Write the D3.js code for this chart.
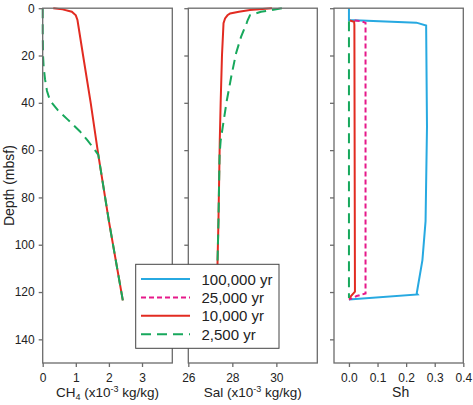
<!DOCTYPE html>
<html><head><meta charset="utf-8">
<script src="https://cdn.jsdelivr.net/npm/d3@7"></script>
<style>
html,body{margin:0;padding:0;background:#fff;}
svg{display:block;font-family:"Liberation Sans",Arial,sans-serif;}
</style></head>
<body><svg id="c" width="473" height="405"></svg>
<script>
// ---- data ----
const seriesNames = ["100,000 yr","25,000 yr","10,000 yr","2,500 yr"];
const seriesColors = ["#27a9e1","#e6198a","#e22b21","#17a85c"];
const yTicks = [0,20,40,60,80,100,120,140];
const ch4Ticks = [0,1,2,3];
const salTicks = [26,28,30];
const shTicks = [0.0,0.1,0.2,0.3,0.4];

// CH4 panel
const ch4Depth10k = [0,0.5,1.5,3,5,20,40,62,90,110,123.5];
const ch4Val10k   = [0.32,0.6,0.88,1.0,1.05,1.22,1.45,1.68,2.0,2.25,2.42];
const ch4Depth2500 = [0,10,20,25,30,35,39,43,47,52,56,60,62,90,110,123.5];
const ch4Val2500   = [0,0,0.01,0.03,0.07,0.13,0.22,0.45,0.75,1.12,1.36,1.58,1.68,2.0,2.25,2.42];

// Salinity panel
const salDepth10k = [0,0.8,1.5,2.2,3,4.3,6.3,20,40,56,90,106.5,123.5];
const salVal10k   = [29.8,28.8,28.3,27.9,27.78,27.67,27.6,27.53,27.47,27.43,27.37,27.33,27.3];
const salDepth2500 = [0,1,1.5,3,5,6.3,12,19,29,39,48,56,62,90,106.5,123.5];
const salVal2500   = [30.25,29.65,29.3,28.8,28.7,28.65,28.4,28.17,27.95,27.75,27.6,27.47,27.42,27.37,27.33,27.3];

// Sh panel
const shDepth100k = [0,5,6.1,7.3,50,90,106.5,120.6,121,123.2];
const shVal100k   = [0,0,0.236,0.27,0.273,0.268,0.257,0.237,0.24,0];
const shDepth25k = [5.2,5.5,6.2,120.6,121.7,123.2];
const shVal25k   = [0.02,0.045,0.058,0.058,0.027,0];
const shDepth10k = [5.2,5.7,7,119.8,122.7];
const shVal10k   = [0.003,0.018,0.019,0.021,0];
const shDepth2500 = [5.5,122.5];
const shVal2500   = [0.0,0.0];

// ---- layout ----
const svg = d3.select("#c");
const yTop = 8.2, yBot = 363;
const y = d3.scaleLinear().domain([0,150]).range([yTop,yBot]);
const panels = [
  {x0:42.7, x1:172.3, dom:[0,3.915], ticks:ch4Ticks, fmt:d3.format("d"), labels:true,
   series:[null,null,[ch4Depth10k,ch4Val10k],[ch4Depth2500,ch4Val2500]]},
  {x0:188.3, x1:317.3, dom:[26,31.86], ticks:salTicks, fmt:d3.format("d"), labels:false,
   series:[null,null,[salDepth10k,salVal10k],[salDepth2500,salVal2500]]},
  {x0:334, x1:463.3, dom:[-0.0523,0.4], ticks:shTicks, fmt:d3.format(".1f"), labels:false,
   series:[[shDepth100k,shVal100k],[shDepth25k,shVal25k],[shDepth10k,shVal10k],[shDepth2500,shVal2500]]}
];
const dashes = [null,"5,3",null,"10,6"];
const axisColor = "#6b6b6b";
const ff = "'Liberation Sans',Arial,sans-serif";

panels.forEach((p,i)=>{
  const x = d3.scaleLinear().domain(p.dom).range([p.x0,p.x1]);
  const g = svg.append("g");
  p.series.forEach((s,k)=>{
    if(!s) return;
    const pts = s[0].map((d,j)=>[s[1][j],d]);
    g.append("path").datum(pts)
      .attr("d", d3.line().x(d=>x(d[0])).y(d=>y(d[1])))
      .attr("fill","none").attr("stroke",seriesColors[k]).attr("stroke-width",2)
      .attr("stroke-dasharray",dashes[k]);
  });
  g.append("rect").attr("x",p.x0).attr("y",yTop).attr("width",p.x1-p.x0).attr("height",yBot-yTop)
    .attr("fill","none").attr("stroke",axisColor).attr("stroke-width",1.3);
  const xa = g.append("g").attr("transform",`translate(0,${yBot})`)
    .call(d3.axisBottom(x).tickValues(p.ticks).tickFormat(p.fmt).tickSize(4).tickPadding(6));
  xa.select(".domain").remove();
  xa.selectAll("line").attr("stroke",axisColor).attr("stroke-width",1.3);
  xa.selectAll("text").attr("font-size",12).attr("fill","#222").style("font-family",ff);
  const ya = g.append("g").attr("transform",`translate(${p.x0},0)`)
    .call(d3.axisLeft(y).tickValues(yTicks).tickFormat(p.labels? d3.format("d") : "").tickSize(4).tickPadding(4));
  ya.select(".domain").remove();
  ya.selectAll("line").attr("stroke",axisColor).attr("stroke-width",1.3);
  ya.selectAll("text").attr("font-size",12).attr("fill","#222").style("font-family",ff);
});

function title(cx, parts, fs){
  const t = svg.append("text").attr("x",cx).attr("y",397).attr("text-anchor","middle")
    .attr("font-size",fs).attr("fill","#222");
  parts.forEach(pp=>{
    const ts = t.append("tspan").text(pp.t);
    if(pp.sub){ ts.attr("font-size",9).attr("dy",3); }
    if(pp.sup){ ts.attr("font-size",9).attr("dy",-5); }
    if(pp.back){ ts.attr("dy",pp.back); }
  });
}
title((panels[0].x0+panels[0].x1)/2, [{t:"CH"},{t:"4",sub:true},{t:" (x10",back:-3},{t:"-3",sup:true},{t:" kg/kg)",back:5}], 13.5);
title((panels[1].x0+panels[1].x1)/2, [{t:"Sal (x10"},{t:"-3",sup:true},{t:" kg/kg)",back:5}], 13.5);
title((panels[2].x0+panels[2].x1)/2 + 2, [{t:"Sh"}], 14);
svg.append("text").attr("transform",`translate(14,${(yTop+yBot)/2}) rotate(-90)`)
  .attr("text-anchor","middle").attr("font-size",14).attr("fill","#222").text("Depth (mbsf)");

const lg = svg.append("g");
lg.append("rect").attr("x",135.7).attr("y",264.3).attr("width",143.3).attr("height",84)
  .attr("fill","#fff").attr("stroke","#444").attr("stroke-width",1);
seriesNames.forEach((n,k)=>{
  const yy = 279 + k*18.4;
  lg.append("line").attr("x1",141).attr("x2",190).attr("y1",yy).attr("y2",yy)
    .attr("stroke",seriesColors[k]).attr("stroke-width",2).attr("stroke-dasharray",dashes[k]);
  lg.append("text").attr("x",201.5).attr("y",yy+5.5).attr("font-size",15).attr("fill","#222").text(n);
});
</script></body></html>
